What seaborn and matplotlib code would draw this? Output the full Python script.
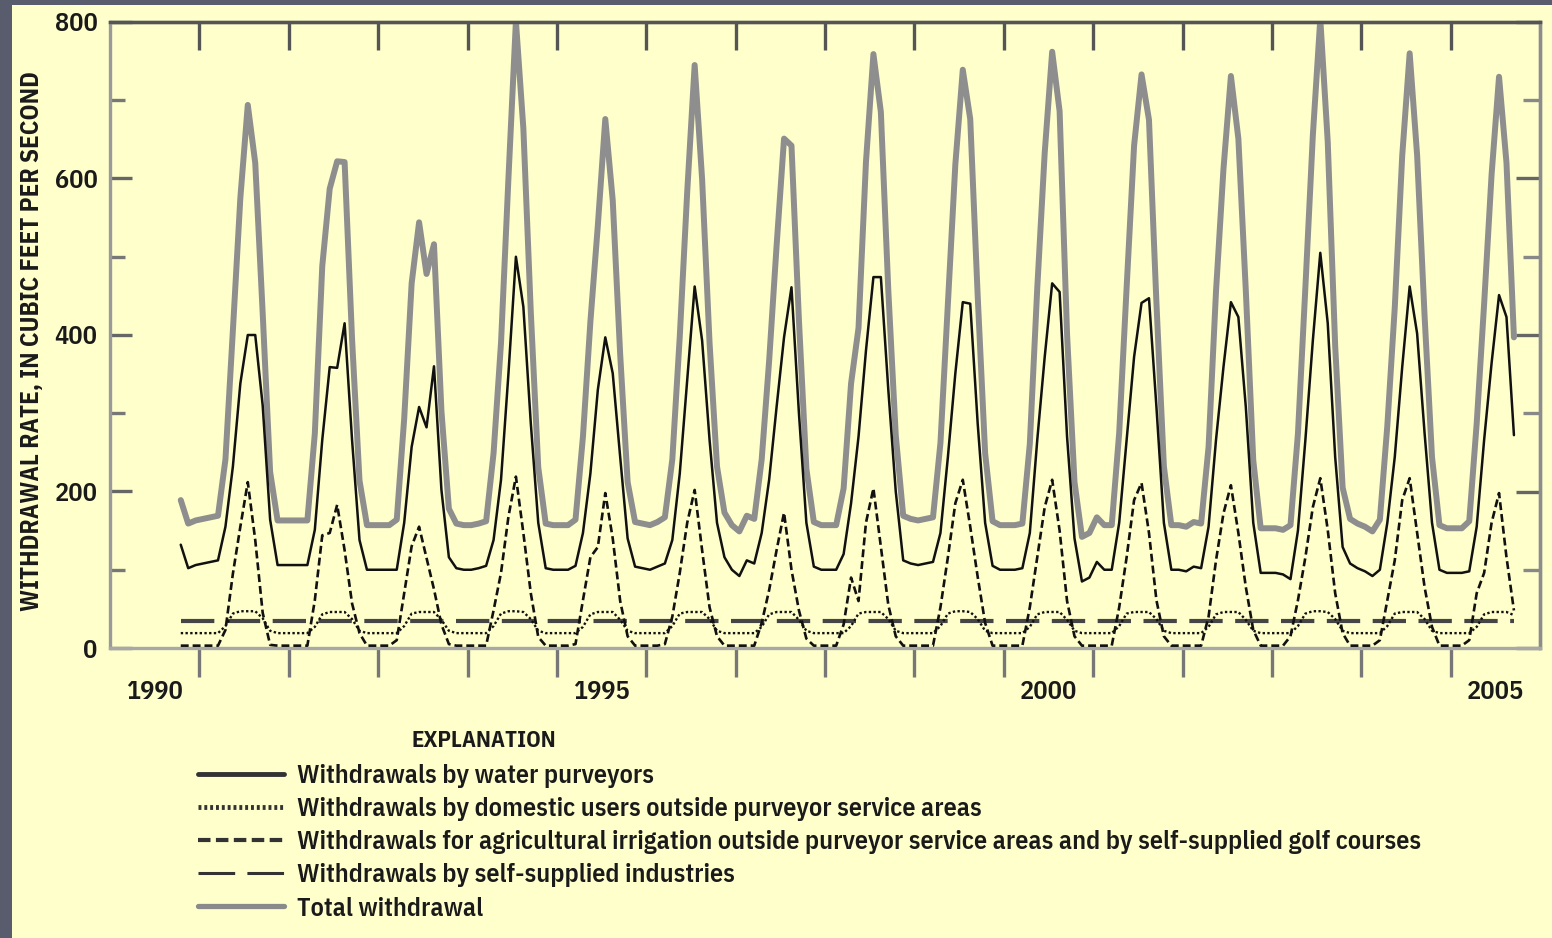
import numpy as np
import pandas as pd
import matplotlib
matplotlib.use("Agg")
import matplotlib.pyplot as plt
import seaborn as sns
from matplotlib.patches import Rectangle
from matplotlib.lines import Line2D

# ---------------- data (monthly, water years Oct..Sep) ----------------
water_years = list(range(1991, 2006))
month_names = ["Oct", "Nov", "Dec", "Jan", "Feb", "Mar",
               "Apr", "May", "Jun", "Jul", "Aug", "Sep"]

purveyors = [
    [132, 102, 106, 108, 110, 112, 155, 232, 338, 400, 400, 310],  # WY1991
    [164, 106, 106, 106, 106, 106, 151, 266, 359, 358, 415, 266],  # WY1992
    [138, 100, 100, 100, 100, 100, 160, 257, 308, 282, 360, 202],  # WY1993
    [116, 102, 100, 100, 102, 105, 138, 215, 351, 500, 436, 287],  # WY1994
    [160, 102, 100, 100, 100, 105, 147, 223, 330, 397, 351, 244],  # WY1995
    [140, 104, 102, 100, 104, 108, 138, 223, 342, 462, 393, 266],  # WY1996
    [160, 116, 100, 92, 112, 108, 147, 215, 308, 397, 461, 300],   # WY1997
    [160, 104, 100, 100, 100, 120, 185, 270, 380, 474, 474, 330],  # WY1998
    [200, 112, 108, 106, 108, 110, 147, 244, 351, 442, 440, 287],  # WY1999
    [160, 105, 100, 100, 100, 102, 147, 266, 372, 466, 455, 270],  # WY2000
    [140, 85, 90, 110, 100, 100, 160, 266, 372, 441, 447, 308],    # WY2001
    [160, 100, 100, 98, 104, 102, 155, 266, 359, 442, 423, 308],   # WY2002
    [160, 96, 96, 96, 94, 88, 150, 266, 393, 505, 415, 244],       # WY2003
    [129, 108, 102, 98, 92, 100, 160, 244, 359, 462, 402, 275],    # WY2004
    [160, 100, 96, 96, 96, 98, 155, 266, 364, 451, 423, 272],      # WY2005
]

domestic = [
    [19, 19, 19, 19, 19, 19, 28, 44, 47, 47, 47, 38],
    [22, 19, 19, 19, 19, 19, 27, 43, 46, 46, 46, 37],
    [22, 19, 19, 19, 19, 19, 28, 44, 46, 46, 46, 36],
    [22, 19, 19, 19, 19, 19, 28, 44, 47, 47, 46, 37],
    [22, 19, 19, 19, 19, 19, 27, 43, 46, 46, 46, 36],
    [22, 19, 19, 19, 19, 19, 28, 44, 46, 46, 46, 37],
    [22, 19, 19, 19, 19, 19, 27, 43, 46, 46, 46, 36],
    [22, 19, 19, 19, 19, 19, 28, 44, 46, 46, 46, 37],
    [22, 19, 19, 19, 19, 19, 28, 44, 47, 47, 46, 37],
    [22, 19, 19, 19, 19, 19, 27, 43, 46, 46, 46, 36],
    [22, 19, 19, 19, 19, 19, 28, 44, 46, 46, 46, 37],
    [22, 19, 19, 19, 19, 19, 27, 43, 46, 46, 46, 36],
    [22, 19, 19, 19, 19, 19, 28, 44, 47, 47, 46, 37],
    [22, 19, 19, 19, 19, 19, 28, 44, 46, 46, 46, 37],
    [22, 19, 19, 19, 19, 19, 27, 43, 46, 46, 46, 42],
]

agriculture = [
    [3, 3, 3, 3, 3, 3, 23, 95, 155, 212, 138, 45],
    [4, 3, 3, 3, 3, 3, 61, 144, 147, 183, 125, 57],
    [19, 3, 3, 3, 3, 10, 70, 130, 155, 115, 75, 30],
    [5, 3, 3, 3, 3, 3, 48, 96, 168, 219, 147, 70],
    [14, 3, 3, 3, 3, 5, 61, 116, 129, 198, 140, 60],
    [15, 3, 3, 3, 3, 5, 40, 96, 160, 202, 125, 52],
    [15, 3, 3, 3, 3, 3, 32, 74, 125, 173, 100, 48],
    [12, 3, 3, 3, 3, 30, 90, 60, 160, 204, 130, 55],
    [15, 3, 3, 3, 3, 3, 52, 116, 185, 215, 155, 91],
    [32, 3, 3, 3, 3, 3, 52, 116, 180, 215, 150, 60],
    [15, 3, 3, 3, 3, 3, 52, 116, 189, 211, 147, 61],
    [15, 3, 3, 3, 3, 3, 40, 112, 172, 208, 147, 78],
    [23, 3, 3, 3, 3, 15, 61, 116, 180, 217, 151, 70],
    [19, 3, 3, 3, 3, 10, 61, 112, 189, 217, 147, 78],
    [27, 3, 3, 3, 3, 10, 70, 96, 160, 198, 116, 48],
]

# self-supplied industry, one value per water year (steady through the year)
industry_annual = [35, 35, 35, 35, 35, 35, 35, 35, 35, 35, 35, 35, 35, 35, 35]

x_label_years = ["1990", "1995", "2000", "2005"]
y_tick_values = [0, 200, 400, 600, 800]
y_label = "WITHDRAWAL RATE, IN CUBIC FEET PER SECOND"
legend_title = "EXPLANATION"
legend_labels = [
    "Withdrawals by water purveyors",
    "Withdrawals by domestic users outside purveyor service areas",
    "Withdrawals for agricultural irrigation outside purveyor service areas and by self-supplied golf courses",
    "Withdrawals by self-supplied industries",
    "Total withdrawal",
]

# ---------------- build the table ----------------
rows = []
for i, wy in enumerate(water_years):
    for m in range(12):
        t = (wy - 1) + (9 + m + 0.5) / 12.0   # mid-month decimal year
        p = purveyors[i][m]
        d = domestic[i][m]
        a = agriculture[i][m]
        ind = industry_annual[i]
        rows.append(dict(t=t, purveyors=p, domestic=d, agriculture=a,
                         industry=ind, total=p + d + a + ind))
df = pd.DataFrame(rows)

# ---------------- styling ----------------
W, H = 1552, 938
sns.set_style("ticks")
FONT = ["IBM Plex Sans Condensed", "DejaVu Sans"]
plt.rcParams["font.family"] = FONT
TXT = "#1a1a1a"
YELLOW = "#ffffcc"

fig = plt.figure(figsize=(W / 100, H / 100), dpi=100)
fig.patch.set_facecolor("#585c6c")
fig.add_artist(Rectangle((12 / W, 0), 1 - 12 / W, 1 - 5 / H, transform=fig.transFigure,
                         facecolor=YELLOW, edgecolor="none", zorder=0))

ax = fig.add_axes([110 / W, 1 - 648 / H, 1430 / W, 626 / H])
ax.set_facecolor(YELLOW)

sns.lineplot(data=df, x="t", y="total", ax=ax, color="#8e8e8e", lw=4.3, zorder=2)
sns.lineplot(data=df, x="t", y="industry", ax=ax, color="#454545", lw=3.0,
             linestyle=(0, (8, 3)), zorder=3)
sns.lineplot(data=df, x="t", y="domestic", ax=ax, color="#111111", lw=1.7,
             linestyle=(0, (1, 1)), zorder=4)
sns.lineplot(data=df, x="t", y="agriculture", ax=ax, color="#111111", lw=1.9,
             linestyle=(0, (3, 1.5)), zorder=5)
sns.lineplot(data=df, x="t", y="purveyors", ax=ax, color="#111111", lw=1.8, zorder=6)

ax.set_xlim(1990, 2006)
ax.set_ylim(0, 800)
ax.set_xlabel("")
ax.set_ylabel(y_label, fontsize=18, fontweight="bold", color=TXT)
ax.yaxis.set_label_coords(-0.046, 0.49)

# spines
for side, col in [("left", "#9a9a9a"), ("bottom", "#a8a8a8"),
                  ("top", "#555555"), ("right", "#8c8c8c")]:
    ax.spines[side].set_visible(True)
    ax.spines[side].set_color(col)
    ax.spines[side].set_linewidth(2.4)

# x ticks: year marks outward at bottom, labels centred in year
ax.set_xticks(list(range(1991, 2006)))
ax.set_xticklabels([])
ax.tick_params(axis="x", which="major", direction="out", length=21, width=2.4,
               color="#777777", top=False)
ax.set_xticks([1990.5, 1995.5, 2000.5, 2005.5], minor=True)
ax.set_xticklabels(x_label_years, minor=True, fontsize=19, color=TXT, fontweight="semibold")
ax.tick_params(axis="x", which="minor", length=0, pad=23)

# y ticks inward
ax.set_yticks(y_tick_values)
ax.set_yticklabels([str(v) for v in y_tick_values], fontsize=19, color=TXT,
                   fontweight="semibold")
ax.set_yticks([100, 300, 500, 700], minor=True)
ax.tick_params(axis="y", which="major", direction="in", length=16, width=2.4,
               color="#666666", pad=9, right=False)
ax.tick_params(axis="y", which="minor", direction="in", length=11, width=2.4,
               color="#777777", right=False)

# top and right inward ticks
secx = ax.secondary_xaxis("top")
secx.set_xticks(list(range(1991, 2006)))
secx.set_xticklabels([])
secx.tick_params(direction="in", length=20, width=2.4, color="#555555")
secx.spines["top"].set_color("#555555")
secx.spines["top"].set_linewidth(2.4)

secy = ax.secondary_yaxis("right")
secy.set_yticks(y_tick_values)
secy.set_yticklabels([])
secy.set_yticks([100, 300, 500, 700], minor=True)
secy.tick_params(which="major", direction="in", length=17, width=2.4, color="#666666")
secy.tick_params(which="minor", direction="in", length=12, width=2.4, color="#888888")
secy.spines["right"].set_color("#8c8c8c")
secy.spines["right"].set_linewidth(2.4)

# ---------------- legend ----------------
handles = [
    Line2D([], [], color="#333333", lw=3.5),
    Line2D([], [], color="#333333", lw=3.5, linestyle=(0, (0.6, 0.6))),
    Line2D([], [], color="#333333", lw=3.0, linestyle=(0, (3, 1.3))),
    Line2D([], [], color="#333333", lw=2.2, linestyle=(0, (12, 4))),
    Line2D([], [], color="#8a8a8a", lw=3.8),
]
leg = fig.legend(handles, legend_labels, loc="upper left",
                 bbox_to_anchor=(198 / W, 1 - 764 / H), frameon=False,
                 prop={"family": FONT, "size": 18.8, "weight": "semibold"},
                 handlelength=3.3, handletextpad=0.5,
                 labelspacing=0.35, borderpad=0, borderaxespad=0)
for txt in leg.get_texts():
    txt.set_color(TXT)

fig.text(484 / W, 1 - 740 / H, legend_title, ha="center", va="center",
         fontsize=16.5, fontweight="bold", color=TXT)

fig.savefig("out.png", dpi=100, facecolor=fig.get_facecolor())
